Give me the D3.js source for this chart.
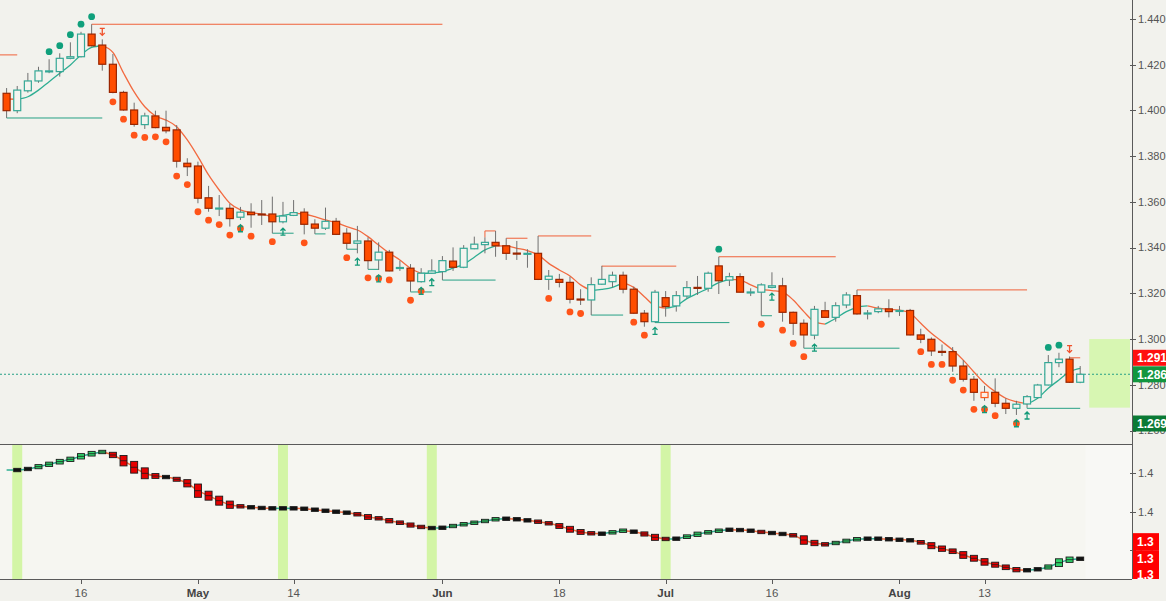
<!DOCTYPE html>
<html>
<head>
<meta charset="utf-8">
<style>
  body { margin: 0; background: #f2f2ed; }
  svg { display: block; font-family: "Liberation Sans", Arial, sans-serif; }
</style>
</head>
<body>
<script src="https://cdn.jsdelivr.net/npm/d3@7"></script>
<script>
// daily candles, 5 Apr 2018 - 24 Aug 2018 (weekdays)
const opens = [1.4075,1.3999,1.4086,1.4129,1.4170,1.4170,1.4228,1.4235,1.4334,1.4286,
  1.4202,1.4079,1.4002,1.3938,1.3976,1.3926,1.3915,1.3769,1.3757,1.3618,
  1.3571,1.3572,1.3533,1.3555,1.3547,1.3547,1.3513,1.3541,1.3555,1.3503,
  1.3485,1.3515,1.3463,1.3419,1.3429,1.3346,1.3380,1.3311,1.3310,1.3251,
  1.3288,1.3295,1.3341,1.3314,1.3395,1.3413,1.3423,1.3408,1.3376,1.3372,
  1.3375,1.3261,1.3261,1.3248,1.3175,1.3171,1.3240,1.3251,1.3279,1.3218,
  1.3113,1.3076,1.3181,1.3145,1.3188,1.3226,1.3222,1.3320,1.3258,1.3273,
  1.3203,1.3205,1.3226,1.3233,1.3117,1.3069,1.3017,1.3124,1.3095,1.3149,
  1.3190,1.3111,1.3120,1.3132,1.3123,1.3125,1.3018,1.2999,1.2946,1.2945,
  1.2882,1.2824,1.2744,1.2767,1.2719,1.2697,1.2716,1.2744,1.2799,1.2897,
  1.2912,1.2811];
const highs = [1.4098,1.4107,1.4164,1.4191,1.4224,1.4250,1.4298,1.4344,1.4377,1.4311,
  1.4247,1.4086,1.4034,1.3990,1.3999,1.3999,1.3936,1.3791,1.3776,1.3670,
  1.3630,1.3591,1.3578,1.3594,1.3608,1.3623,1.3600,1.3608,1.3572,1.3524,
  1.3575,1.3530,1.3485,1.3495,1.3445,1.3423,1.3390,1.3343,1.3328,1.3310,
  1.3349,1.3363,1.3401,1.3411,1.3448,1.3445,1.3473,1.3441,1.3429,1.3393,
  1.3451,1.3302,1.3285,1.3273,1.3218,1.3270,1.3320,1.3295,1.3295,1.3229,
  1.3127,1.3215,1.3210,1.3210,1.3254,1.3276,1.3295,1.3360,1.3290,1.3288,
  1.3222,1.3244,1.3292,1.3268,1.3120,1.3086,1.3145,1.3163,1.3161,1.3205,
  1.3215,1.3127,1.3145,1.3174,1.3145,1.3132,1.3045,1.3007,1.2976,1.2965,
  1.2908,1.2838,1.2795,1.2828,1.2741,1.2730,1.2755,1.2804,1.2930,1.2940,
  1.2923,1.2882];
const lows = [1.3967,1.3988,1.4078,1.4121,1.4163,1.4148,1.4224,1.4232,1.4280,1.4174,
  1.4075,1.3999,1.3929,1.3919,1.3922,1.3900,1.3750,1.3713,1.3594,1.3557,
  1.3538,1.3492,1.3521,1.3487,1.3499,1.3463,1.3506,1.3538,1.3458,1.3460,
  1.3477,1.3455,1.3393,1.3375,1.3305,1.3302,1.3296,1.3298,1.3207,1.3247,
  1.3285,1.3258,1.3298,1.3310,1.3393,1.3375,1.3360,1.3346,1.3346,1.3312,
  1.3258,1.3215,1.3226,1.3156,1.3149,1.3105,1.3237,1.3226,1.3200,1.3111,
  1.3054,1.3072,1.3098,1.3120,1.3178,1.3193,1.3207,1.3197,1.3232,1.3204,
  1.3188,1.3102,1.3222,1.3076,1.3018,1.2960,1.2999,1.3093,1.3076,1.3135,
  1.3107,1.3086,1.3113,1.3095,1.3101,1.3016,1.2982,1.2926,1.2926,1.2857,
  1.2814,1.2730,1.2730,1.2702,1.2672,1.2668,1.2702,1.2741,1.2797,1.2877,
  1.2808,1.2807];
const closes = [1.3999,1.4089,1.4129,1.4173,1.4173,1.4228,1.4235,1.4334,1.4283,1.4202,
  1.4079,1.4002,1.3939,1.3976,1.3925,1.3911,1.3778,1.3754,1.3616,1.3572,
  1.3573,1.3527,1.3555,1.3544,1.3545,1.3513,1.3538,1.3553,1.3502,1.3485,
  1.3515,1.3458,1.3419,1.3429,1.3343,1.3380,1.3298,1.3313,1.3254,1.3288,
  1.3298,1.3343,1.3314,1.3397,1.3415,1.3423,1.3408,1.3375,1.3374,1.3375,
  1.3261,1.3275,1.3248,1.3174,1.3173,1.3238,1.3261,1.3279,1.3218,1.3113,
  1.3076,1.3205,1.3142,1.3190,1.3225,1.3223,1.3288,1.3255,1.3273,1.3205,
  1.3206,1.3237,1.3233,1.3117,1.3069,1.3018,1.3130,1.3095,1.3146,1.3193,
  1.3110,1.3114,1.3132,1.3120,1.3125,1.3018,1.2999,1.2948,1.2943,1.2882,
  1.2824,1.2767,1.2767,1.2719,1.2697,1.2715,1.2748,1.2799,1.2897,1.2912,
  1.2811,1.2846];

// fast trend line drawn over the candles
const trendLine = [1.4050,1.4049,1.4060,1.4089,1.4126,1.4163,1.4199,1.4243,1.4276,1.4283,
  1.4254,1.4164,1.4081,1.4016,1.3976,1.3958,1.3929,1.3871,1.3798,1.3718,
  1.3652,1.3594,1.3565,1.3553,1.3546,1.3535,1.3541,1.3550,1.3547,1.3535,
  1.3521,1.3509,1.3492,1.3477,1.3448,1.3411,1.3376,1.3346,1.3310,1.3287,
  1.3289,1.3295,1.3310,1.3327,1.3358,1.3390,1.3408,1.3407,1.3397,1.3387,
  1.3368,1.3331,1.3302,1.3276,1.3237,1.3212,1.3217,1.3226,1.3247,1.3226,
  1.3185,1.3145,1.3135,1.3145,1.3177,1.3200,1.3222,1.3247,1.3261,1.3258,
  1.3237,1.3218,1.3212,1.3205,1.3171,1.3120,1.3076,1.3065,1.3091,1.3120,
  1.3139,1.3145,1.3135,1.3130,1.3127,1.3113,1.3069,1.3025,1.2989,1.2952,
  1.2908,1.2856,1.2807,1.2770,1.2741,1.2726,1.2716,1.2741,1.2785,1.2821,
  1.2857,1.2872];

// slow wave in the lower pane
const wave = [1.4234,1.4234,1.4245,1.4269,1.4294,1.4321,1.4346,1.4377,1.4404,1.4422,
  1.4391,1.4331,1.4263,1.4200,1.4172,1.4161,1.4138,1.4096,1.4019,1.3967,
  1.3915,1.3873,1.3856,1.3846,1.3839,1.3835,1.3835,1.3835,1.3831,1.3821,
  1.3810,1.3800,1.3790,1.3773,1.3745,1.3731,1.3706,1.3685,1.3661,1.3641,
  1.3630,1.3633,1.3651,1.3669,1.3685,1.3703,1.3721,1.3727,1.3721,1.3710,
  1.3696,1.3679,1.3651,1.3617,1.3589,1.3575,1.3571,1.3585,1.3602,1.3592,
  1.3568,1.3533,1.3516,1.3519,1.3540,1.3565,1.3585,1.3602,1.3612,1.3609,
  1.3602,1.3589,1.3578,1.3568,1.3554,1.3505,1.3474,1.3460,1.3474,1.3495,
  1.3513,1.3519,1.3519,1.3513,1.3508,1.3502,1.3481,1.3446,1.3415,1.3388,
  1.3349,1.3315,1.3277,1.3248,1.3221,1.3196,1.3190,1.3200,1.3224,1.3269,
  1.3300,1.3310];

// markers, by bar number
const sellDots = [10,11,12,13,14,15,16,17,18,19,20,21,22,23,25,28,32,34,35,36,38,39,
  51,53,54,59,60,71,73,74,75,86,87,88,89,90,91,92,93,95];
const buyDots = [4,5,6,7,8,67,98,99];
const buyArrows = [22,26,33,35,39,40,61,72,76,92,95,96];
const sellArrows = [9,100];
const outlinedBars = [92];
const waveMarks = [1,26,40,62];

// step lines: [first bar, last bar, level]
const resistance = [[-2,1,1.4243],[8,41,1.4377],[45,46,1.3473],[47,49,1.3441],[50,55,1.3451],
  [56,63,1.3319],[67,78,1.3360],[80,96,1.3215],[100,101,1.2918]];
const support = [[0,9,1.3967],[25,27,1.3463],[29,30,1.3460],[32,33,1.3393],[34,35,1.3305],
  [38,40,1.3206],[41,46,1.3258],[55,58,1.3105],[61,68,1.3072],[71,72,1.3102],
  [75,84,1.2960],[96,101,1.2697]];
const targetZone = [1.3000, 1.2700];

const tagValues = [1.2918, 1.2864, 1.2697];
const waveTagValues = [1.3488, 1.3311, 1.3140];

const tickDates = ["2018-04-16","2018-05-01","2018-05-14","2018-06-01","2018-06-18",
  "2018-07-02","2018-07-16","2018-08-01","2018-08-13"];
const tickLabels = ["16","May","14","Jun","18","Jul","16","Aug","13"];

const dates = d3.timeDay.range(new Date(2018, 3, 5), new Date(2018, 7, 25))
  .filter(d => d.getDay() % 6 !== 0);

let width = 1166;
let height = 601;
let plotRight = 1132;
let mainBottom = 444;
let axisY = 579;

let up = "#35a896";
let down = "#ff4d00";
let lineUp = "#2eae93";
let lineDown = "#f26a40";

let svg = d3.select("body").append("svg")
  .attr("width", width)
  .attr("height", height);

let x = d3.scaleLinear().domain([0, 101]).range([6.6, 1080.2]);
let y = d3.scaleLinear().domain([1.26, 1.44]).range([430.5, 19]);
let yLow = d3.scaleLinear().domain([1.38, 1.42]).range([511.7, 473.3]);

svg.append("rect").attr("width", width).attr("height", height).attr("fill", "#f2f2ed");

let defs = svg.append("defs");
defs.append("clipPath").attr("id", "clipMain")
  .append("rect").attr("width", plotRight).attr("height", mainBottom);
defs.append("clipPath").attr("id", "clipLow")
  .append("rect").attr("y", mainBottom).attr("width", plotRight).attr("height", axisY - mainBottom);
defs.append("clipPath").attr("id", "clipLowTags")
  .append("rect").attr("x", plotRight).attr("y", mainBottom).attr("width", width - plotRight).attr("height", axisY - mainBottom);

function colorRuns(values) {
  let runs = [];
  for (let k = 1; k < values.length; k++) {
    let rising = values[k] >= values[k - 1];
    let last = runs[runs.length - 1];
    if (last && last.rising === rising) last.end = k;
    else runs.push({ rising: rising, start: k - 1, end: k });
  }
  return runs;
}

function drawRuns(g, values, scale, width) {
  let line = d3.line().x(k => x(k)).y(k => scale(values[k])).curve(d3.curveMonotoneX);
  g.selectAll(null).data(colorRuns(values)).join("path")
    .attr("d", r => line(d3.range(r.start, r.end + 1)))
    .attr("fill", "none")
    .attr("stroke", r => r.rising ? lineUp : lineDown)
    .attr("stroke-width", width);
}

// ---------- main pane ----------
let main = svg.append("g").attr("clip-path", "url(#clipMain)");

main.append("rect")
  .attr("x", x(101.85)).attr("width", 1130 - x(101.85))
  .attr("y", y(targetZone[0])).attr("height", y(targetZone[1]) - y(targetZone[0]))
  .attr("fill", "#d7f6b2");

main.selectAll(".res").data(resistance).join("path")
  .attr("d", r => {
    let top = r[0] >= 0 ? y(highs[r[0]]) : y(r[2]);
    return "M" + x(r[0]) + "," + top + "V" + y(r[2]) + "H" + x(r[1]);
  })
  .attr("fill", "none").attr("stroke", "#f0613a").attr("stroke-width", 1);

main.selectAll(".sup").data(support).join("path")
  .attr("d", r => "M" + x(r[0]) + "," + y(lows[r[0]]) + "V" + y(r[2]) + "H" + x(r[1]))
  .attr("fill", "none").attr("stroke", "#26a085").attr("stroke-width", 1);

main.append("line")
  .attr("x1", 0).attr("x2", plotRight)
  .attr("y1", y(closes[closes.length - 1])).attr("y2", y(closes[closes.length - 1]))
  .attr("stroke", "#26a085").attr("stroke-dasharray", "2,2");

drawRuns(main, trendLine, y, 1.3);

let bars = d3.range(dates.length);

main.selectAll(".wick").data(bars).join("line")
  .attr("x1", j => x(j)).attr("x2", j => x(j))
  .attr("y1", j => y(highs[j])).attr("y2", j => y(lows[j]))
  .attr("stroke", "#707070").attr("stroke-width", 1);

main.selectAll(".body").data(bars).join("rect")
  .attr("x", j => x(j) - 3.5).attr("width", 7)
  .attr("y", j => y(Math.max(opens[j], closes[j])))
  .attr("height", j => Math.max(1, Math.abs(y(opens[j]) - y(closes[j]))))
  .attr("fill", j => {
    if (closes[j] < opens[j]) return down;
    return outlinedBars.includes(j) ? "#fbeee6" : "#f4f4ef";
  })
  .attr("stroke", j => {
    if (closes[j] < opens[j]) return "#9a2600";
    return outlinedBars.includes(j) ? "#ff5a1a" : up;
  })
  .attr("stroke-width", 1.2);

main.selectAll(".sdot").data(sellDots).join("circle")
  .attr("cx", j => x(j)).attr("cy", j => y(lows[j]) + 8.5).attr("r", 3.4)
  .attr("fill", "#ff5419");

main.selectAll(".bdot").data(buyDots).join("circle")
  .attr("cx", j => x(j)).attr("cy", j => y(highs[j]) - 7.6).attr("r", 3.4)
  .attr("fill", "#10a07c");

function arrowUp(cx, cy) {
  return "M" + (cx - 2.5) + "," + (cy + 3.5) + "H" + (cx + 2.5) +
    "M" + cx + "," + (cy + 3.5) + "V" + (cy - 3.5) +
    "M" + (cx - 2.5) + "," + (cy - 1) + "L" + cx + "," + (cy - 3.5) + "L" + (cx + 2.5) + "," + (cy - 1);
}
function arrowDown(cx, cy) {
  return "M" + (cx - 2.5) + "," + (cy - 3.5) + "H" + (cx + 2.5) +
    "M" + cx + "," + (cy - 3.5) + "V" + (cy + 3.5) +
    "M" + (cx - 2.5) + "," + (cy + 1) + "L" + cx + "," + (cy + 3.5) + "L" + (cx + 2.5) + "," + (cy + 1);
}

main.selectAll(".barrow").data(buyArrows).join("path")
  .attr("d", j => arrowUp(x(j), y(lows[j]) + 8.3))
  .attr("fill", "none").attr("stroke", "#139a78").attr("stroke-width", 1.3);

main.selectAll(".sarrow").data(sellArrows).join("path")
  .attr("d", j => arrowDown(x(j), y(highs[j]) - 7.5))
  .attr("fill", "none").attr("stroke", "#f0502a").attr("stroke-width", 1.3);

// ---------- lower pane ----------
let low = svg.append("g").attr("clip-path", "url(#clipLow)");

low.append("rect").attr("y", mainBottom).attr("width", plotRight).attr("height", axisY - mainBottom)
  .attr("fill", "#f6f6f1");
low.append("rect").attr("x", x(101.5)).attr("y", mainBottom)
  .attr("width", plotRight - x(101.5)).attr("height", axisY - mainBottom)
  .attr("fill", "#f8f8f5");

low.selectAll(".mark").data(waveMarks).join("rect")
  .attr("x", j => x(j) - 5).attr("width", 10)
  .attr("y", mainBottom).attr("height", axisY - mainBottom)
  .attr("fill", "#d3f5a6");

drawRuns(low, wave, yLow, 1.5);

let steps = d3.range(1, wave.length);
function boxGeom(j) {
  let y0 = yLow(wave[j - 1]);
  let y1 = yLow(wave[j]);
  let d = y1 - y0;
  let half = Math.max(Math.abs(d) * 0.9, 1.7);
  return { mid: y1, top: y1 - half, h: half * 2, d: d };
}
low.selectAll(".box").data(steps).join("rect")
  .attr("x", j => x(j) - 3.5).attr("width", 7)
  .attr("y", j => boxGeom(j).top).attr("height", j => boxGeom(j).h)
  .attr("fill", j => {
    let d = boxGeom(j).d;
    if (Math.abs(d) < 1.2) return "#111";
    return d > 0 ? "#e60000" : "#2fd46a";
  })
  .attr("stroke", "#1a1a1a").attr("stroke-width", 0.9);
low.selectAll(".boxmid").data(steps.filter(j => Math.abs(boxGeom(j).d) >= 1.2)).join("line")
  .attr("x1", j => x(j) - 3.5).attr("x2", j => x(j) + 3.5)
  .attr("y1", j => boxGeom(j).mid).attr("y2", j => boxGeom(j).mid)
  .attr("stroke", "#1a1a1a").attr("stroke-width", 0.8);

// ---------- frames and axes ----------
svg.append("line").attr("x1", 0).attr("x2", plotRight).attr("y1", mainBottom + 0.5).attr("y2", mainBottom + 0.5)
  .attr("stroke", "#5a5a5a");
svg.append("line").attr("x1", 0).attr("x2", plotRight).attr("y1", axisY + 0.5).attr("y2", axisY + 0.5)
  .attr("stroke", "#5a5a5a");
svg.append("line").attr("x1", plotRight + 0.5).attr("x2", plotRight + 0.5).attr("y1", 0).attr("y2", axisY)
  .attr("stroke", "#5a5a5a");

let priceTicks = d3.ticks(1.26, 1.44, 9);
let yAxis = svg.append("g");
yAxis.selectAll("line").data(priceTicks).join("line")
  .attr("x1", plotRight - 2).attr("x2", plotRight + 4)
  .attr("y1", v => Math.round(y(v)) + 0.5).attr("y2", v => Math.round(y(v)) + 0.5)
  .attr("stroke", "#5a5a5a");
yAxis.selectAll("text").data(priceTicks).join("text")
  .attr("x", 1138).attr("y", v => y(v)).attr("dy", "0.35em")
  .attr("font-size", 11).attr("fill", "#555")
  .text(d3.format(".3f"));

let waveTicks = [1.34, 1.38, 1.42];
let yAxisLow = svg.append("g");
yAxisLow.selectAll("line").data(waveTicks).join("line")
  .attr("x1", plotRight - 2).attr("x2", plotRight + 4)
  .attr("y1", v => Math.round(yLow(v)) + 0.5).attr("y2", v => Math.round(yLow(v)) + 0.5)
  .attr("stroke", "#5a5a5a");
yAxisLow.selectAll("text").data(waveTicks).join("text")
  .attr("x", 1138).attr("y", v => yLow(v)).attr("dy", "0.35em")
  .attr("font-size", 11).attr("fill", "#555")
  .text(d3.format(".1f"));

let parse = d3.timeParse("%Y-%m-%d");
let tickIndex = tickDates.map(s => d3.bisector(d => d).left(dates, parse(s)));
let xAxis = svg.append("g");
xAxis.selectAll("line").data(tickIndex).join("line")
  .attr("x1", j => Math.round(x(j)) + 0.5).attr("x2", j => Math.round(x(j)) + 0.5)
  .attr("y1", axisY).attr("y2", axisY + 5)
  .attr("stroke", "#5a5a5a");
xAxis.selectAll("text").data(tickIndex).join("text")
  .attr("x", j => x(j)).attr("y", 597)
  .attr("text-anchor", "middle").attr("font-size", 11.5)
  .attr("fill", (j, k) => isNaN(+tickLabels[k]) ? "#444" : "#555")
  .attr("font-weight", (j, k) => isNaN(+tickLabels[k]) ? "bold" : "normal")
  .text((j, k) => tickLabels[k]);

// ---------- value tags ----------
// tags are stacked downward so they never overlap each other; the last
// one drops onto the next tick label below it
let tagColors = ["#ff1010", "#12963f", "#0b7a35"];
let tagY = [];
tagValues.forEach((v, k) => {
  let p = y(v);
  if (k > 0 && p < tagY[k - 1] + 16.5) p = tagY[k - 1] + 16.5;
  if (k === tagValues.length - 1) {
    let below = priceTicks.filter(t => y(t) > p && y(t) - p < 25);
    if (below.length) p = y(below[0]) - 7;
  }
  tagY.push(p);
});
let tags = svg.append("g");
tags.selectAll("rect").data(tagValues).join("rect")
  .attr("x", plotRight + 1).attr("width", width - plotRight)
  .attr("y", (v, k) => tagY[k] - 8).attr("height", 16)
  .attr("fill", (v, k) => tagColors[k]);
tags.selectAll("text").data(tagValues).join("text")
  .attr("x", 1137).attr("y", (v, k) => tagY[k]).attr("dy", "0.36em")
  .attr("font-size", 12).attr("font-weight", "bold").attr("fill", "#fff")
  .text(d3.format(".4f"));

let lowTags = svg.append("g").attr("clip-path", "url(#clipLowTags)");
lowTags.selectAll("rect").data(waveTagValues).join("rect")
  .attr("x", plotRight + 1).attr("width", 26)
  .attr("y", v => yLow(v) - 8.5).attr("height", 17)
  .attr("fill", "#ff0000");
lowTags.selectAll("text").data(waveTagValues).join("text")
  .attr("x", 1137).attr("y", v => yLow(v)).attr("dy", "0.36em")
  .attr("font-size", 12).attr("font-weight", "bold").attr("fill", "#fff")
  .text(d3.format(".1f"));
</script>
</body>
</html>
